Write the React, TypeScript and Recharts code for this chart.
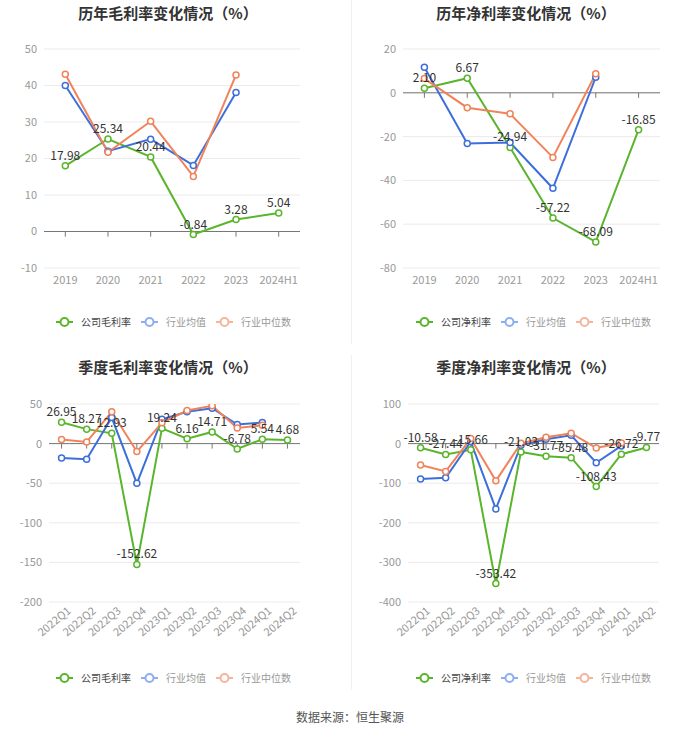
import React from 'react';
import { LineChart, Line, XAxis, YAxis, CartesianGrid, ReferenceLine, LabelList } from 'recharts';

const annualCategories = ['2019', '2020', '2021', '2022', '2023', '2024H1'];
const annualGrossCompany = [17.98, 25.34, 20.44, -0.84, 3.28, 5.04];
const annualGrossAvg = [40.0, 22.0, 25.3, 18.1, 38.1, null];
const annualGrossMedian = [43.1, 21.7, 30.2, 15.1, 42.9, null];

const annualNetCompany = [2.1, 6.67, -24.94, -57.22, -68.09, -16.85];
const annualNetAvg = [11.7, -23.1, -22.7, -43.6, 7.1, null];
const annualNetMedian = [6.5, -6.8, -9.6, -29.5, 8.7, null];

const quarterCategories = ['2022Q1', '2022Q2', '2022Q3', '2022Q4', '2023Q1', '2023Q2', '2023Q3', '2023Q4', '2024Q1', '2024Q2'];
const quarterGrossCompany = [26.95, 18.27, 12.93, -152.62, 19.24, 6.16, 14.71, -6.78, 5.54, 4.68];
const quarterGrossAvg = [-18.1, -19.8, 32.9, -50.2, 30.8, 40.1, 44.7, 24.1, 26.6, null];
const quarterGrossMedian = [5.1, 2.1, 40.1, -10.1, 26.2, 41.8, 47.7, 19.8, 23.2, null];

const quarterNetCompany = [-10.58, -27.44, -15.66, -353.42, -21.03, -31.77, -35.48, -108.43, -26.72, -9.77];
const quarterNetAvg = [-89.5, -86.4, 5.1, -165.0, -4.2, 11.0, 21.2, -48.3, -5.9, null];
const quarterNetMedian = [-54.2, -70.3, 12.7, -94.0, 0.8, 16.1, 26.3, -11.0, 1.7, null];

const annualGrossTicks = [-10, 0, 10, 20, 30, 40, 50];
const annualNetTicks = [-80, -60, -40, -20, 0, 20];
const quarterGrossTicks = [-200, -150, -100, -50, 0, 50];
const quarterNetTicks = [-400, -300, -200, -100, 0, 100];

const GREEN = '#5ab52d';
const BLUE = '#3d6fdb';
const ORANGE = '#f0835a';
const FONT = '"Noto Sans CJK SC", "Noto Sans", sans-serif';

const RotatedTick = (props: any) => {
  const { x, y, payload } = props;
  const tx = x + 5;
  const ty = y - 2;
  return (
    <text x={tx} y={ty} transform={`rotate(-40, ${tx}, ${ty})`} textAnchor="end" dy="0.71em" fontSize={11} fill="#999" fontFamily={FONT}>
      {payload.value}
    </text>
  );
};

function MarginChart(props: any) {
  const { categories, company, avg, median, ticks, width, height, margin, yAxisWidth, rotated, tickLen, xHeight, pad } = props;
  const data = categories.map((c: string, i: number) => ({ name: c, company: company[i], avg: avg[i], median: median[i] }));
  const dot = (color: string) => ({ r: 3, fill: '#fff', stroke: color, strokeWidth: 1.5 });
  return (
    <LineChart width={width} height={height} data={data} margin={margin} style={{ fontFamily: FONT }}>
      <CartesianGrid vertical={false} stroke="#ebebeb" />
      <XAxis
        dataKey="name"
        axisLine={false}
        tickLine={false}
        tickSize={0}
        tickMargin={rotated ? 6 : 8}
        height={xHeight}
        interval={0}
        padding={{ left: pad, right: pad }}
        tick={rotated ? <RotatedTick /> : { fontSize: 11, fill: '#999' }}
      />
      <YAxis
        domain={[ticks[0], ticks[ticks.length - 1]]}
        ticks={ticks}
        width={yAxisWidth}
        axisLine={false}
        tickLine={false}
        tickSize={0}
        tickMargin={7}
        interval={0}
        allowDataOverflow
        tick={{ fontSize: 11, fill: '#999' }}
      />
      <ReferenceLine y={0} stroke="#777" strokeWidth={1} />
      {categories.map((c: string) => (
        <ReferenceLine key={c} segment={[{ x: c, y: 0 }, { x: c, y: -tickLen }]} stroke="#777" strokeWidth={1} />
      ))}
      <Line dataKey="company" stroke={GREEN} strokeWidth={2} dot={dot(GREEN)} activeDot={false} isAnimationActive={false} />
      <Line dataKey="avg" stroke={BLUE} strokeWidth={2} dot={dot(BLUE)} activeDot={false} isAnimationActive={false} />
      <Line dataKey="median" stroke={ORANGE} strokeWidth={2} dot={dot(ORANGE)} activeDot={false} isAnimationActive={false} />
      <Line dataKey="company" stroke="none" dot={false} activeDot={false} isAnimationActive={false} legendType="none">
        <LabelList
          dataKey="company"
          position="top"
          offset={6}
          fill="#333"
          fontSize={12}
          fontFamily={FONT}
          formatter={(v: any) => (typeof v === 'number' ? v.toFixed(2) : v)}
        />
      </Line>
    </LineChart>
  );
}

function LegendIcon({ color }: { color: string }) {
  return (
    <svg width={17} height={10} style={{ display: 'block' }}>
      <line x1={0} y1={5} x2={17} y2={5} stroke={color} strokeWidth={2} />
      <circle cx={8.5} cy={5} r={4} fill="#fff" stroke={color} strokeWidth={2} />
    </svg>
  );
}

function LegendRow({ left, top, first }: { left: number; top: number; first: string }) {
  const items = [
    { label: first, color: GREEN, text: '#444' },
    { label: '行业均值', color: '#8eaeee', text: '#999' },
    { label: '行业中位数', color: '#f5b59c', text: '#999' },
  ];
  return (
    <div style={{ position: 'absolute', left, top, display: 'flex', alignItems: 'center', fontFamily: FONT, fontSize: 10, lineHeight: '14px', whiteSpace: 'nowrap' }}>
      {items.map((it, i) => (
        <div key={it.label} style={{ display: 'flex', alignItems: 'center', marginLeft: i === 0 ? 0 : 10 }}>
          <LegendIcon color={it.color} />
          <span style={{ marginLeft: 8, color: it.text }}>{it.label}</span>
        </div>
      ))}
    </div>
  );
}

function Title({ cx, cy, text }: { cx: number; cy: number; text: string }) {
  return (
    <div style={{ position: 'absolute', left: cx - 150, top: cy - 11, width: 300, textAlign: 'center', fontFamily: FONT, fontSize: 15, fontWeight: 'bold', color: '#333', lineHeight: '22px' }}>
      {text}
    </div>
  );
}

export default function App() {
  return (
    <div style={{ position: 'absolute', left: 0, top: 0, width: 700, height: 734, background: '#fff', overflow: 'hidden' }}>
      <div style={{ position: 'absolute', left: 351, top: 0, width: 1, height: 344, background: '#f0f0f0' }} />
      <div style={{ position: 'absolute', left: 351, top: 355, width: 1, height: 335, background: '#f0f0f0' }} />

      <Title cx={168} cy={13} text="历年毛利率变化情况（%）" />
      <Title cx={526} cy={13} text="历年净利率变化情况（%）" />
      <Title cx={168} cy={367} text="季度毛利率变化情况（%）" />
      <Title cx={526} cy={367} text="季度净利率变化情况（%）" />

      <div style={{ position: 'absolute', left: 0, top: 0 }}>
        <MarginChart
          categories={annualCategories}
          company={annualGrossCompany}
          avg={annualGrossAvg}
          median={annualGrossMedian}
          ticks={annualGrossTicks}
          width={350}
          height={300}
          margin={{ top: 49, right: 50, bottom: 2, left: 0 }}
          yAxisWidth={44}
          xHeight={30}
          rotated={false}
          tickLen={1.4}
          pad={21.3}
        />
      </div>
      <div style={{ position: 'absolute', left: 350, top: 0 }}>
        <MarginChart
          categories={annualCategories}
          company={annualNetCompany}
          avg={annualNetAvg}
          median={annualNetMedian}
          ticks={annualNetTicks}
          width={350}
          height={300}
          margin={{ top: 49, right: 40, bottom: 2, left: 0 }}
          yAxisWidth={53}
          xHeight={30}
          rotated={false}
          tickLen={2.3}
          pad={21.4}
        />
      </div>
      <div style={{ position: 'absolute', left: 0, top: 350 }}>
        <MarginChart
          categories={quarterCategories}
          company={quarterGrossCompany}
          avg={quarterGrossAvg}
          median={quarterGrossMedian}
          ticks={quarterGrossTicks}
          width={350}
          height={300}
          margin={{ top: 54, right: 50, bottom: 4, left: 0 }}
          yAxisWidth={49}
          xHeight={44}
          rotated={true}
          tickLen={6.3}
          pad={12.55}
        />
      </div>
      <div style={{ position: 'absolute', left: 350, top: 350 }}>
        <MarginChart
          categories={quarterCategories}
          company={quarterNetCompany}
          avg={quarterNetAvg}
          median={quarterNetMedian}
          ticks={quarterNetTicks}
          width={350}
          height={300}
          margin={{ top: 54, right: 41, bottom: 4, left: 0 }}
          yAxisWidth={58}
          xHeight={44}
          rotated={true}
          tickLen={12.7}
          pad={12.55}
        />
      </div>

      <LegendRow left={56} top={315} first="公司毛利率" />
      <LegendRow left={416} top={315} first="公司净利率" />
      <LegendRow left={56} top={671} first="公司毛利率" />
      <LegendRow left={416} top={671} first="公司净利率" />

      <div style={{ position: 'absolute', left: 250, top: 709, width: 200, textAlign: 'center', fontFamily: FONT, fontSize: 12, color: '#555', lineHeight: '16px' }}>
        数据来源：恒生聚源
      </div>
    </div>
  );
}
